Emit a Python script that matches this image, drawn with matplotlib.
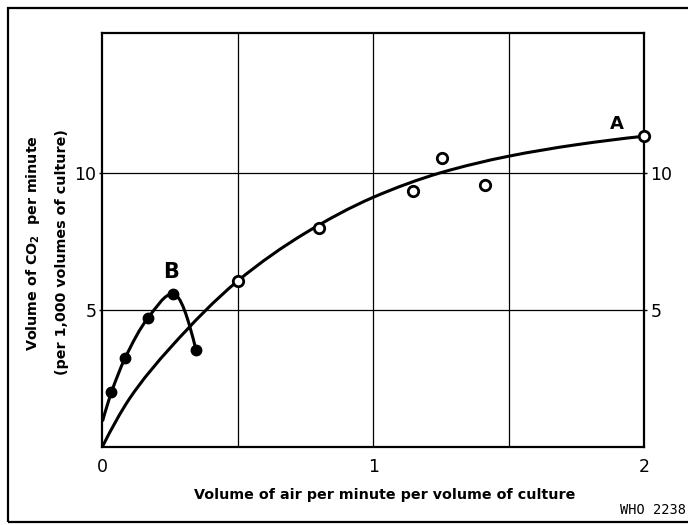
import numpy as np
import matplotlib
matplotlib.use("Agg")
import matplotlib.pyplot as plt
from matplotlib.path import Path
from matplotlib.patches import PathPatch, Rectangle

# Curve A: open circles (measured points) and the drawn smooth curve
a_x = [0.5, 0.8, 1.145, 1.255, 1.414, 2.0]
a_y = [6.03, 7.97, 9.33, 10.52, 9.55, 11.33]
a_curve_x = [0.0, 0.1, 0.25, 0.5, 0.75, 1.0, 1.25, 1.5, 1.75, 2.0]
a_curve_y = [0.0, 1.75, 3.6, 6.05, 7.8, 9.1, 10.0, 10.6, 11.02, 11.33]

# Curve B: filled dots, curve starts on the y axis
b_x = [0.033, 0.083, 0.167, 0.26, 0.345]
b_y = [1.98, 3.22, 4.68, 5.58, 3.54]
b_start = (0.0, 0.92)

x_ticks = [0, 1, 2]
x_grid = [0.5, 1.0, 1.5]
y_ticks = [5, 10]


def smooth_path(xs, ys):
    # shape-preserving cubic (Fritsch-Carlson slopes) as Bezier segments
    x = np.asarray(xs, float)
    y = np.asarray(ys, float)
    h = np.diff(x)
    s = np.diff(y) / h
    n = len(x)
    d = np.zeros(n)
    for k in range(1, n - 1):
        if s[k - 1] * s[k] <= 0:
            d[k] = 0.0
        else:
            w1 = 2 * h[k] + h[k - 1]
            w2 = h[k] + 2 * h[k - 1]
            d[k] = (w1 + w2) / (w1 / s[k - 1] + w2 / s[k])

    def end_slope(h0, h1, s0, s1):
        e = ((2 * h0 + h1) * s0 - h0 * s1) / (h0 + h1)
        if np.sign(e) != np.sign(s0):
            e = 0.0
        elif np.sign(s0) != np.sign(s1) and abs(e) > abs(3 * s0):
            e = 3 * s0
        return e

    d[0] = end_slope(h[0], h[1], s[0], s[1])
    d[-1] = end_slope(h[-1], h[-2], s[-1], s[-2])

    verts = [(x[0], y[0])]
    codes = [Path.MOVETO]
    for k in range(n - 1):
        verts += [(x[k] + h[k] / 3, y[k] + d[k] * h[k] / 3),
                  (x[k + 1] - h[k] / 3, y[k + 1] - d[k + 1] * h[k] / 3),
                  (x[k + 1], y[k + 1])]
        codes += [Path.CURVE4] * 3
    return Path(verts, codes)


fig = plt.figure(figsize=(6.88, 5.25), dpi=100)
ax = fig.add_axes([102.5 / 688, 1 - 446.5 / 525, (644 - 102.5) / 688, (446.5 - 33) / 525])

ax.set_xlim(0, 2)
ax.set_ylim(0, 15.1)

for gx in x_grid:
    ax.axvline(gx, color="black", lw=0.9, zorder=1)
for gy in y_ticks:
    ax.axhline(gy, color="black", lw=0.9, zorder=1)

ax.add_patch(PathPatch(smooth_path(a_curve_x, a_curve_y), facecolor="none",
                       edgecolor="black", lw=2.2, zorder=3, clip_on=False))
ax.add_patch(PathPatch(smooth_path([b_start[0]] + b_x, [b_start[1]] + b_y), facecolor="none",
                       edgecolor="black", lw=2.2, zorder=3, clip_on=False))

ax.plot(a_x, a_y, "o", ms=7.5, mfc="white", mec="black", mew=2.0, zorder=4, clip_on=False)
ax.plot(b_x, b_y, "o", ms=7.5, mfc="black", mec="black", zorder=4, clip_on=False)

ax.text(1.899, 11.76, "A", fontsize=13, fontweight="bold", ha="center", va="center")
ax.text(0.255, 6.36, "B", fontsize=15, fontweight="bold", ha="center", va="center")

for s in ax.spines.values():
    s.set_linewidth(1.6)

ax.set_xticks(x_ticks)
ax.set_xticklabels([str(t) for t in x_ticks])
ax.set_yticks(y_ticks)
ax.set_yticklabels([str(t) for t in y_ticks])
ax.tick_params(axis="x", length=0, pad=8, labelsize=12.5)
ax.tick_params(axis="y", length=2.5, width=1, pad=2, labelsize=12.5,
               right=True, labelright=True)

fig.text(33 / 688, 1 - 243 / 525, r"Volume of CO$_\mathbf{2}$  per minute",
         rotation=90, ha="center", va="center", fontsize=10.3, fontweight="bold")
fig.text(62 / 688, 1 - 252 / 525, "(per 1,000 volumes of culture)",
         rotation=90, ha="center", va="center", fontsize=10.3, fontweight="bold")
fig.text(384.5 / 688, 1 - 495 / 525, "Volume of air per minute per volume of culture",
         ha="center", va="center", fontsize=10.3, fontweight="bold")
fig.text(686 / 688, 1 - 510 / 525, "WHO 2238", ha="right", va="center",
         fontsize=9.8, family="DejaVu Sans Mono")

fig.patches.append(Rectangle((8 / 688, 1 - 522 / 525), 1.2, (522 - 8) / 525,
                             transform=fig.transFigure, fill=False,
                             edgecolor="black", lw=1.6))

fig.savefig("out.png", dpi=100)
